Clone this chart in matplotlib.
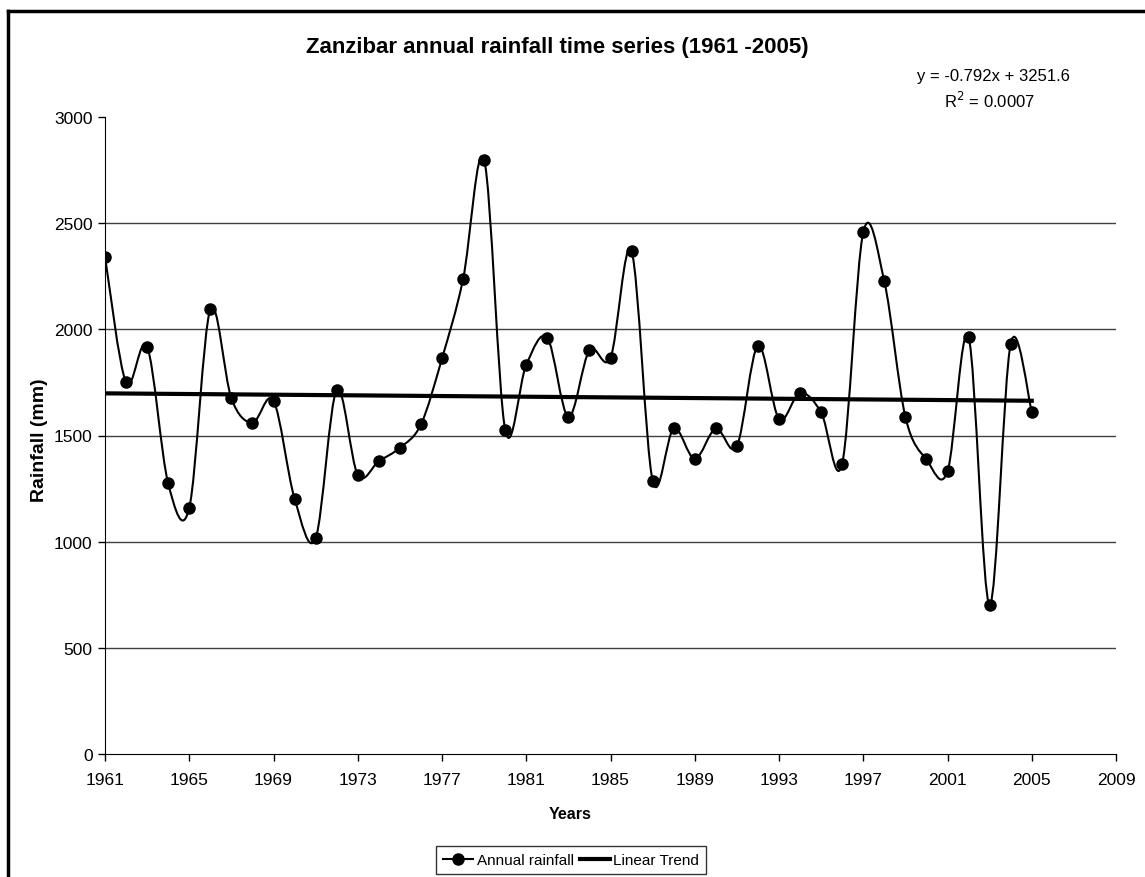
import numpy as np
import matplotlib.pyplot as plt
from matplotlib.path import Path
from matplotlib.patches import PathPatch
from matplotlib.lines import Line2D

plt.rcParams['font.family'] = ['Liberation Sans', 'DejaVu Sans']

years = list(range(1961, 2006))
rain = [2342, 1750, 1918, 1274, 1159, 2094, 1675, 1560, 1664, 1203,
        1016, 1714, 1315, 1379, 1442, 1552, 1863, 2236, 2799, 1527,
        1833, 1960, 1588, 1902, 1866, 2368, 1288, 1533, 1390, 1533,
        1450, 1923, 1579, 1701, 1609, 1368, 2457, 2226, 1588, 1387,
        1331, 1964, 702, 1932, 1612]
slope = -0.792
intercept = 3251.6
xticks = list(range(1961, 2010, 4))
yticks = [0, 500, 1000, 1500, 2000, 2500, 3000]


def smooth_path(x, y):
    # excel style smoothed line: cubic bezier segments (catmull-rom)
    pts = np.column_stack([x, y]).astype(float)
    ext = np.vstack([pts[0], pts, pts[-1]])
    verts = [pts[0]]
    codes = [Path.MOVETO]
    for i in range(len(pts) - 1):
        p0, p1, p2, p3 = ext[i], ext[i + 1], ext[i + 2], ext[i + 3]
        verts += [p1 + (p2 - p0) / 6, p2 - (p3 - p1) / 6, p2]
        codes += [Path.CURVE4] * 3
    return Path(verts, codes)


fig = plt.figure(figsize=(11.45, 8.78), dpi=100)
ax = fig.add_axes([105 / 1145, 1 - 755 / 878, (1116 - 105) / 1145, (755 - 118) / 878])

ax.add_patch(PathPatch(smooth_path(years, rain), facecolor='none',
                       edgecolor='black', lw=1.5, zorder=3))
ax.plot(years, rain, 'o', color='black', ms=8, zorder=4)
trend_x = [years[0], years[-1]]
trend_y = [slope * v + intercept for v in trend_x]
ax.plot(trend_x, trend_y, color='black', lw=3, zorder=2)

ax.set_xlim(1961, 2009)
ax.set_ylim(0, 3000)
ax.set_xticks(xticks)
ax.set_yticks(yticks)
for v in yticks[1:-1]:
    ax.axhline(v, color='#404040', lw=1, zorder=1)
ax.spines['top'].set_visible(False)
ax.spines['right'].set_visible(False)
ax.tick_params(axis='both', direction='out', length=5, width=1, labelsize=12.5)
ax.tick_params(axis='x', pad=8)
ax.tick_params(axis='y', pad=4)

fig.text(557 / 1145, 1 - 48 / 878, 'Zanzibar annual rainfall time series (1961 -2005)',
         ha='center', va='center', fontsize=16, fontweight='bold')
fig.text(993 / 1145, 1 - 77 / 878, 'y = -0.792x + 3251.6', ha='center', va='center', fontsize=12)
fig.text(990 / 1145, 1 - 101 / 878, 'R$^2$ = 0.0007', ha='center', va='center', fontsize=12)
fig.text(40 / 1145, 1 - 440 / 878, 'Rainfall (mm)', rotation=90, ha='center', va='center',
         fontsize=14, fontweight='bold')
fig.text(570 / 1145, 1 - 815 / 878, 'Years', ha='center', va='center', fontsize=11.5, fontweight='bold')

handles = [Line2D([], [], color='black', lw=1.5, marker='o', ms=8),
           Line2D([], [], color='black', lw=3)]
leg = fig.legend(handles, ['Annual rainfall', 'Linear Trend'], loc='center',
                 bbox_to_anchor=(571 / 1145, 1 - 861 / 878), ncol=2, fontsize=11,
                 frameon=True, fancybox=False, edgecolor='black', handlelength=2.0,
                 handletextpad=0.2, columnspacing=0.4, borderpad=0.45)
leg.get_frame().set_linewidth(1)

# outer chart border (left and top visible)
fig.add_artist(Line2D([8 / 1145, 8 / 1145], [0, 1 - 12 / 878], color='black', lw=2.5))
fig.add_artist(Line2D([8 / 1145, 1], [1 - 12 / 878, 1 - 12 / 878], color='black', lw=2.5))

fig.savefig('out.png', dpi=100)
